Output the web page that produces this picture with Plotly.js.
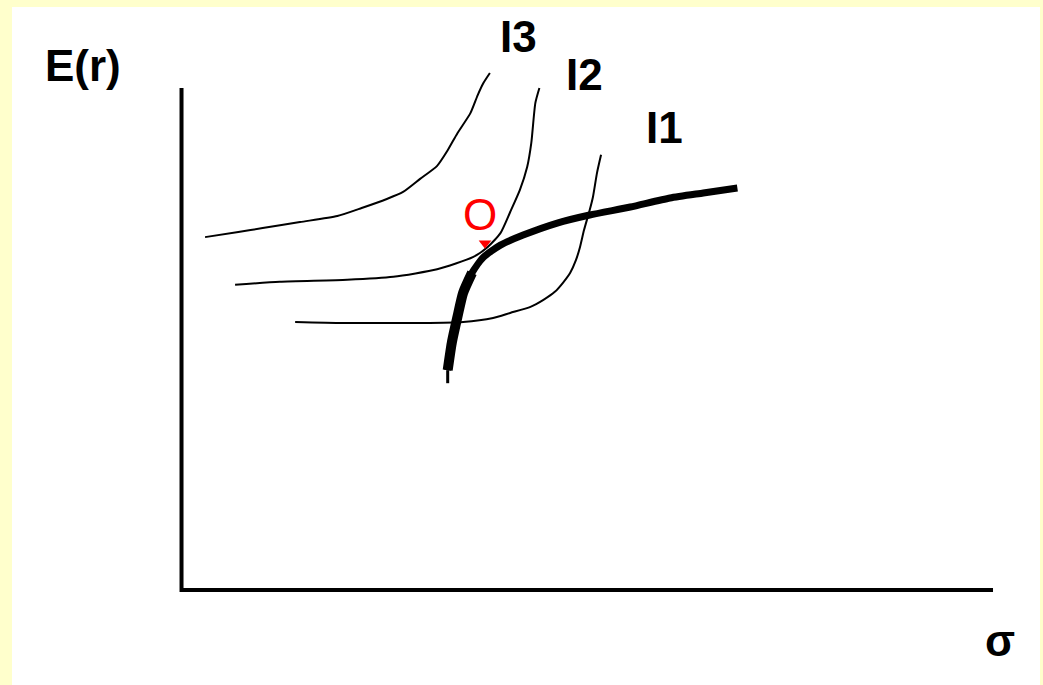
<!DOCTYPE html>
<html>
<head>
<meta charset="utf-8">
<script src="https://cdn.plot.ly/plotly-3.0.1.min.js"></script>
<style>
  html, body { margin: 0; padding: 0; background: #FFFFCC; width: 1043px; height: 685px; overflow: hidden; }
  #chart { position: absolute; left: 12px; top: 7px; width: 1028px; height: 678px; background: #ffffff; }
</style>
</head>
<body>
<div id="chart"></div>
<script>
// ---- data (σ on x, E(r) on y; both axes run 0..100) ----
const axisX = [0, 100];
const axisY = [0, 100];

const i3Sigma = [2.9, 7.0, 10.0, 14.6, 19.2, 22.2, 25.3, 27.3, 29.4, 31.5, 32.8, 34.0, 35.6, 36.5, 37.2, 38.0];
const i3Er    = [70.3, 71.3, 72.1, 73.3, 74.5, 76.1, 77.9, 79.3, 81.9, 84.5, 87.6, 91.0, 95.0, 98.6, 101.0, 103.0];

const i2Sigma = [6.6, 12.1, 20.4, 26.1, 31.5, 35.9, 37.7, 39.3, 40.5, 41.7, 42.6, 43.1, 43.6, 44.1];
const i2Er    = [60.8, 61.4, 61.8, 62.4, 63.9, 66.3, 68.3, 71.1, 75.3, 79.7, 84.3, 89.0, 97.0, 100.0];

const i1Sigma = [14.0, 19.9, 29.4, 34.7, 38.4, 40.5, 43.0, 44.6, 46.0, 47.0, 47.9, 48.6, 49.1, 49.6, 50.3, 50.7, 51.2, 51.7];
const i1Er    = [53.4, 53.2, 53.2, 53.4, 54.2, 55.2, 56.4, 57.8, 59.4, 61.2, 63.2, 65.7, 68.3, 71.7, 75.7, 78.3, 83.1, 86.7];

// efficient frontier (thin tip at the bottom, thicker lower part)
const tipSigma      = [32.8, 32.8];
const tipEr         = [41.2, 43.8];
const frontierSigma = [32.8, 33.3, 34.0, 34.7, 35.8, 37.2, 39.3, 42.1, 46.3, 50.3, 55.3, 60.2, 64.3, 68.5];
const frontierEr    = [43.8, 49.2, 54.4, 59.2, 63.2, 66.3, 68.7, 70.7, 73.1, 74.7, 76.3, 78.1, 79.1, 80.1];
const lowerSigma    = [32.8, 33.3, 34.0, 34.7, 35.8];
const lowerEr       = [43.8, 49.2, 54.4, 59.2, 63.2];

// optimal point O
const optSigma = [37.4];
const optEr    = [69.1];

// text labels
const labelText  = ['E(r)', 'I3', 'I2', 'I1', 'σ'];
const labelSigma = [-12.1, 41.5, 49.7, 59.5, 100.8];
const labelEr    = [104.4, 110.2, 102.6, 92.2, -10.0];
const optLabel      = 'O';
const optLabelSigma = 36.8;
const optLabelEr    = 74.9;

// ---- traces ----
function curve(x, y, w) {
  return { x: x, y: y, type: 'scatter', mode: 'lines', hoverinfo: 'skip',
           line: { color: '#000000', width: w, shape: 'spline', smoothing: 0.6 } };
}
const traces = [
  curve(i3Sigma, i3Er, 2),
  curve(i2Sigma, i2Er, 2),
  curve(i1Sigma, i1Er, 2),
  { x: tipSigma, y: tipEr, type: 'scatter', mode: 'lines', line: { color: '#000', width: 3 } },
  curve(frontierSigma, frontierEr, 7),
  curve(lowerSigma, lowerEr, 10),
  { x: optSigma, y: optEr, type: 'scatter', mode: 'markers',
    marker: { color: '#ff0000', symbol: 'triangle-down', size: 11 } }
];

const annotations = labelText.map((t, i) => ({
  x: labelSigma[i], y: labelEr[i], xref: 'x', yref: 'y', text: t, showarrow: false,
  xanchor: 'center', yanchor: 'middle',
  font: { family: 'Liberation Sans, Arial, sans-serif', size: 44, color: '#000000', weight: 'bold' }
}));
annotations.push({
  x: optLabelSigma, y: optLabelEr, xref: 'x', yref: 'y', text: optLabel, showarrow: false,
  xanchor: 'center', yanchor: 'middle',
  font: { family: 'Liberation Sans, Arial, sans-serif', size: 44, color: '#ff0000' }
});

const layout = {
  width: 1028, height: 678,
  margin: { l: 0, r: 0, t: 0, b: 0, pad: 0 },
  paper_bgcolor: '#ffffff', plot_bgcolor: '#ffffff',
  showlegend: false,
  xaxis: { range: [-20.89, 105.79], visible: false, fixedrange: true },
  yaxis: { range: [-18.92, 116.14], visible: false, fixedrange: true },
  shapes: [
    { type: 'line', xref: 'x', yref: 'y', x0: axisX[0], y0: axisY[0] - 0.4, x1: axisX[0], y1: axisY[1],
      line: { color: '#000000', width: 4 } },
    { type: 'line', xref: 'x', yref: 'y', x0: axisX[0], y0: axisY[0], x1: axisX[1], y1: axisY[0],
      line: { color: '#000000', width: 4 } }
  ],
  annotations: annotations
};

Plotly.newPlot('chart', traces, layout, { displayModeBar: false, staticPlot: true });
</script>
</body>
</html>
